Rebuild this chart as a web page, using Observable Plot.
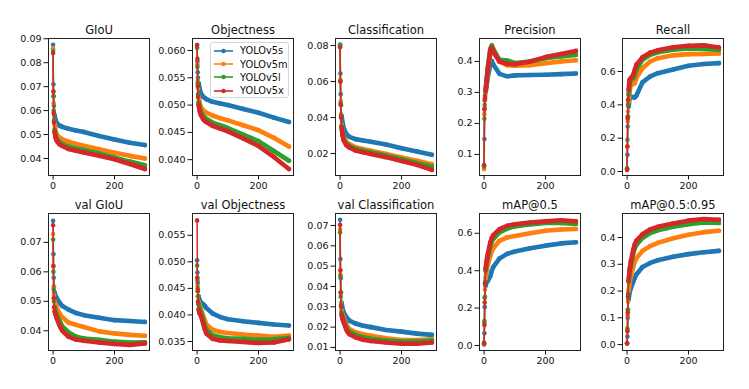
<!DOCTYPE html>
<html><head><meta charset="utf-8">
<script src="https://cdn.jsdelivr.net/npm/d3@7"></script>
<script src="https://cdn.jsdelivr.net/npm/@observablehq/plot@0.6"></script>
<style>
body{margin:0;background:#fff;}
#fig{position:relative;width:749px;height:389px;font-family:"DejaVu Sans",sans-serif;overflow:hidden;background:#fff;}
#legend{position:absolute;left:210px;top:42px;width:79px;height:56px;border:1px solid #d6d6d6;border-radius:3px;background:rgba(255,255,255,0.85);z-index:5;box-sizing:border-box;padding-top:1px;}
#legend .row{display:flex;align-items:center;height:13.4px;font-size:9.8px;color:#111;}
#legend svg{margin-left:2px;margin-right:6px;}
</style></head><body><div id="fig"></div>
<script>
const epochs = [0,1,2,3,5,8,12,20,25,30,50,75,100,150,200,250,299];
const models = ["YOLOv5s","YOLOv5m","YOLOv5l","YOLOv5x"];
const colors = ["#1f77b4","#ff7f0e","#2ca02c","#d62728"];

const giou = [
  [0.0875,0.0710,0.0660,0.0620,0.0580,0.0560,0.0548,0.0538,0.0535,0.0532,0.0524,0.0517,0.0511,0.0494,0.0479,0.0466,0.0456],
  [0.0860,0.0680,0.0630,0.0590,0.0545,0.0515,0.0500,0.0488,0.0484,0.0480,0.0470,0.0461,0.0453,0.0439,0.0424,0.0411,0.0400],
  [0.0850,0.0660,0.0600,0.0560,0.0520,0.0495,0.0482,0.0469,0.0465,0.0461,0.0450,0.0442,0.0435,0.0421,0.0404,0.0387,0.0372],
  [0.0840,0.0680,0.0590,0.0550,0.0510,0.0488,0.0473,0.0460,0.0456,0.0452,0.0440,0.0432,0.0425,0.0411,0.0397,0.0377,0.0356]
];
const objectness = [
  [0.0610,0.0580,0.0560,0.0550,0.0540,0.0530,0.0522,0.0515,0.0513,0.0511,0.0506,0.0503,0.0500,0.0493,0.0486,0.0477,0.0469],
  [0.0605,0.0575,0.0545,0.0530,0.0515,0.0505,0.0497,0.0490,0.0488,0.0486,0.0481,0.0476,0.0472,0.0463,0.0454,0.0440,0.0424],
  [0.0605,0.0570,0.0540,0.0520,0.0505,0.0496,0.0488,0.0480,0.0477,0.0475,0.0468,0.0463,0.0458,0.0446,0.0434,0.0416,0.0398],
  [0.0610,0.0585,0.0535,0.0515,0.0500,0.0490,0.0482,0.0474,0.0471,0.0469,0.0462,0.0457,0.0452,0.0439,0.0425,0.0405,0.0383]
];
const classification = [
  [0.0805,0.0645,0.0530,0.0470,0.0410,0.0370,0.0340,0.0310,0.0300,0.0293,0.0280,0.0272,0.0265,0.0250,0.0230,0.0212,0.0193],
  [0.0800,0.0610,0.0490,0.0420,0.0360,0.0320,0.0290,0.0265,0.0258,0.0252,0.0235,0.0225,0.0216,0.0198,0.0178,0.0160,0.0141],
  [0.0800,0.0600,0.0480,0.0410,0.0350,0.0310,0.0280,0.0255,0.0249,0.0243,0.0226,0.0216,0.0207,0.0189,0.0169,0.0147,0.0128],
  [0.0790,0.0600,0.0470,0.0400,0.0345,0.0300,0.0272,0.0247,0.0240,0.0234,0.0217,0.0207,0.0198,0.0180,0.0159,0.0137,0.0109]
];
const precision = [
  [0.065,0.150,0.250,0.280,0.300,0.320,0.350,0.390,0.402,0.390,0.360,0.352,0.355,0.356,0.357,0.359,0.361],
  [0.052,0.230,0.250,0.280,0.300,0.330,0.370,0.425,0.440,0.430,0.400,0.388,0.386,0.388,0.394,0.400,0.404],
  [0.060,0.215,0.260,0.290,0.310,0.340,0.380,0.440,0.452,0.440,0.405,0.403,0.395,0.400,0.410,0.416,0.421],
  [0.065,0.245,0.275,0.285,0.305,0.335,0.375,0.435,0.445,0.432,0.400,0.392,0.391,0.400,0.414,0.424,0.434]
];
const recall = [
  [0.010,0.100,0.270,0.330,0.390,0.440,0.450,0.445,0.445,0.455,0.535,0.570,0.590,0.612,0.634,0.645,0.650],
  [0.015,0.150,0.300,0.360,0.420,0.480,0.520,0.525,0.530,0.560,0.620,0.660,0.680,0.697,0.704,0.705,0.708],
  [0.020,0.190,0.330,0.400,0.460,0.530,0.550,0.560,0.580,0.610,0.670,0.700,0.715,0.730,0.738,0.735,0.730],
  [0.010,0.150,0.320,0.430,0.490,0.550,0.560,0.580,0.610,0.640,0.685,0.713,0.727,0.745,0.754,0.757,0.744]
];
const valGiou = [
  [0.0773,0.0660,0.0580,0.0550,0.0530,0.0518,0.0510,0.0497,0.0490,0.0484,0.0472,0.0460,0.0453,0.0444,0.0436,0.0433,0.0430],
  [0.0728,0.0620,0.0550,0.0520,0.0500,0.0490,0.0478,0.0460,0.0452,0.0446,0.0428,0.0420,0.0413,0.0398,0.0391,0.0386,0.0383],
  [0.0710,0.0600,0.0540,0.0500,0.0480,0.0465,0.0455,0.0435,0.0425,0.0415,0.0395,0.0380,0.0374,0.0369,0.0363,0.0360,0.0361],
  [0.0758,0.0620,0.0510,0.0480,0.0465,0.0455,0.0442,0.0420,0.0410,0.0400,0.0380,0.0370,0.0366,0.0360,0.0355,0.0352,0.0357]
];
const valObjectness = [
  [0.0503,0.0480,0.0460,0.0445,0.0435,0.0428,0.0424,0.0420,0.0417,0.0413,0.0403,0.0396,0.0392,0.0388,0.0385,0.0382,0.0380],
  [0.0470,0.0455,0.0445,0.0435,0.0425,0.0418,0.0412,0.0398,0.0390,0.0382,0.0372,0.0368,0.0366,0.0363,0.0361,0.0359,0.0361],
  [0.0493,0.0465,0.0450,0.0435,0.0420,0.0412,0.0406,0.0390,0.0380,0.0372,0.0362,0.0358,0.0356,0.0355,0.0353,0.0354,0.0357],
  [0.0578,0.0470,0.0445,0.0425,0.0410,0.0403,0.0399,0.0383,0.0373,0.0365,0.0355,0.0352,0.0351,0.0349,0.0347,0.0348,0.0354]
];
const valClassification = [
  [0.0728,0.0535,0.0440,0.0370,0.0320,0.0290,0.0272,0.0250,0.0240,0.0232,0.0218,0.0207,0.0200,0.0186,0.0178,0.0168,0.0162],
  [0.0680,0.0460,0.0370,0.0320,0.0280,0.0260,0.0246,0.0215,0.0200,0.0190,0.0175,0.0165,0.0158,0.0145,0.0137,0.0137,0.0140],
  [0.0665,0.0450,0.0350,0.0310,0.0270,0.0250,0.0235,0.0200,0.0188,0.0178,0.0162,0.0150,0.0143,0.0134,0.0129,0.0129,0.0134],
  [0.0703,0.0480,0.0370,0.0300,0.0260,0.0240,0.0222,0.0188,0.0175,0.0165,0.0150,0.0138,0.0132,0.0124,0.0118,0.0118,0.0124]
];
const map50 = [
  [0.005,0.065,0.205,0.260,0.320,0.340,0.345,0.370,0.400,0.420,0.465,0.490,0.503,0.520,0.534,0.546,0.552],
  [0.010,0.120,0.255,0.300,0.360,0.400,0.430,0.480,0.505,0.520,0.560,0.578,0.586,0.600,0.614,0.620,0.623],
  [0.015,0.130,0.255,0.340,0.400,0.440,0.470,0.530,0.555,0.570,0.605,0.625,0.637,0.648,0.655,0.656,0.650],
  [0.010,0.110,0.230,0.330,0.410,0.450,0.490,0.550,0.575,0.590,0.622,0.640,0.648,0.658,0.664,0.670,0.664]
];
const map5095 = [
  [0.003,0.030,0.100,0.130,0.170,0.195,0.210,0.235,0.250,0.262,0.290,0.305,0.315,0.328,0.338,0.345,0.350],
  [0.005,0.055,0.110,0.160,0.200,0.230,0.255,0.290,0.310,0.322,0.350,0.368,0.380,0.397,0.410,0.420,0.425],
  [0.005,0.060,0.130,0.190,0.235,0.265,0.295,0.340,0.360,0.372,0.398,0.417,0.427,0.440,0.450,0.456,0.454],
  [0.005,0.050,0.120,0.180,0.240,0.280,0.310,0.355,0.375,0.388,0.412,0.430,0.440,0.452,0.463,0.469,0.466]
];

const titles = ["GIoU","Objectness","Classification","Precision","Recall",
                "val GIoU","val Objectness","val Classification","mAP@0.5","mAP@0.5:0.95"];
const seriesList = [giou, objectness, classification, precision, recall,
                    valGiou, valObjectness, valClassification, map50, map5095];
const yTicks = [
  [0.04,0.05,0.06,0.07,0.08,0.09],
  [0.040,0.045,0.050,0.055,0.060],
  [0.02,0.04,0.06,0.08],
  [0.1,0.2,0.3,0.4],
  [0.0,0.2,0.4,0.6],
  [0.04,0.05,0.06,0.07],
  [0.035,0.040,0.045,0.050,0.055],
  [0.01,0.02,0.03,0.04,0.05,0.06,0.07],
  [0.0,0.2,0.4,0.6],
  [0.0,0.1,0.2,0.3,0.4]
];
const yFormats = [".2f",".3f",".2f",".1f",".1f",".2f",".3f",".2f",".1f",".1f"];
const xTicks = [0, 200];

// layout / scale options
const yDomains = [
  [0.0329,0.0901],[0.0371,0.0622],[0.0078,0.0839],[0.032,0.474],[-0.024,0.798],
  [0.0333,0.0798],[0.0333,0.0591],[0.0085,0.0759],[-0.027,0.706],[-0.022,0.4897]
];
const xDomain = [-15, 314];
const colLeft = [48,192,335,479,622], rowTop = [38,213];
const frameW = 101, frameH = 137;
const mL = 46, mR = 6, mT = 30, mB = 26;

const fig = document.getElementById("fig");

titles.forEach((title, i) => {
  const r = Math.floor(i / 5), c = i % 5;
  const marks = [];
  seriesList[i].forEach((vals, k) => {
    const data = epochs.map((e, j) => ({epoch: e, value: vals[j], model: models[k]}));
    marks.push(Plot.line(data, {x: "epoch", y: "value", stroke: colors[k], strokeWidth: 1.5}));
    marks.push(Plot.line(data.filter(d => d.epoch >= 5), {x: "epoch", y: "value", stroke: colors[k], strokeWidth: 4.6}));
    marks.push(Plot.dot(data, {x: "epoch", y: "value", fill: colors[k], r: 2.3}));
  });
  marks.push(Plot.frame({stroke: "#222", strokeWidth: 1}));
  marks.push(Plot.axisY({ticks: yTicks[i], tickFormat: d3.format(yFormats[i]), tickSize: 4.5, tickPadding: 2.5, fontSize: 9.5, label: null}));
  marks.push(Plot.axisX({ticks: xTicks, tickFormat: d3.format("d"), tickSize: 4.5, tickPadding: 2, fontSize: 9.5, label: null}));
  marks.push(Plot.text([title], {text: d => d, frameAnchor: "top", lineAnchor: "bottom", dy: -4.5, fontSize: 11.5, fill: "#111"}));
  const svg = Plot.plot({
    width: mL + frameW + mR, height: mT + frameH + mB,
    marginLeft: mL, marginRight: mR, marginTop: mT, marginBottom: mB,
    x: {domain: xDomain}, y: {domain: yDomains[i]},
    style: {fontFamily: "DejaVu Sans", fontSize: "9.5px", color: "#111", background: "transparent", overflow: "visible"},
    marks
  });
  svg.style.position = "absolute";
  svg.style.left = (colLeft[c] - mL) + "px";
  svg.style.top = (rowTop[r] - mT) + "px";
  svg.style.maxWidth = "none";
  fig.appendChild(svg);
});

// legend inside the Objectness panel
const legend = document.createElement("div");
legend.id = "legend";
models.forEach((m, k) => {
  const row = document.createElement("div");
  row.className = "row";
  const s = d3.create("svg").attr("width", 21).attr("height", 8);
  s.append("line").attr("x1", 1).attr("x2", 20).attr("y1", 4).attr("y2", 4).attr("stroke", colors[k]).attr("stroke-width", 1.6);
  s.append("circle").attr("cx", 10.5).attr("cy", 4).attr("r", 2.3).attr("fill", colors[k]);
  row.appendChild(s.node());
  const t = document.createElement("span");
  t.textContent = m;
  row.appendChild(t);
  legend.appendChild(row);
});
fig.appendChild(legend);
</script></body></html>
